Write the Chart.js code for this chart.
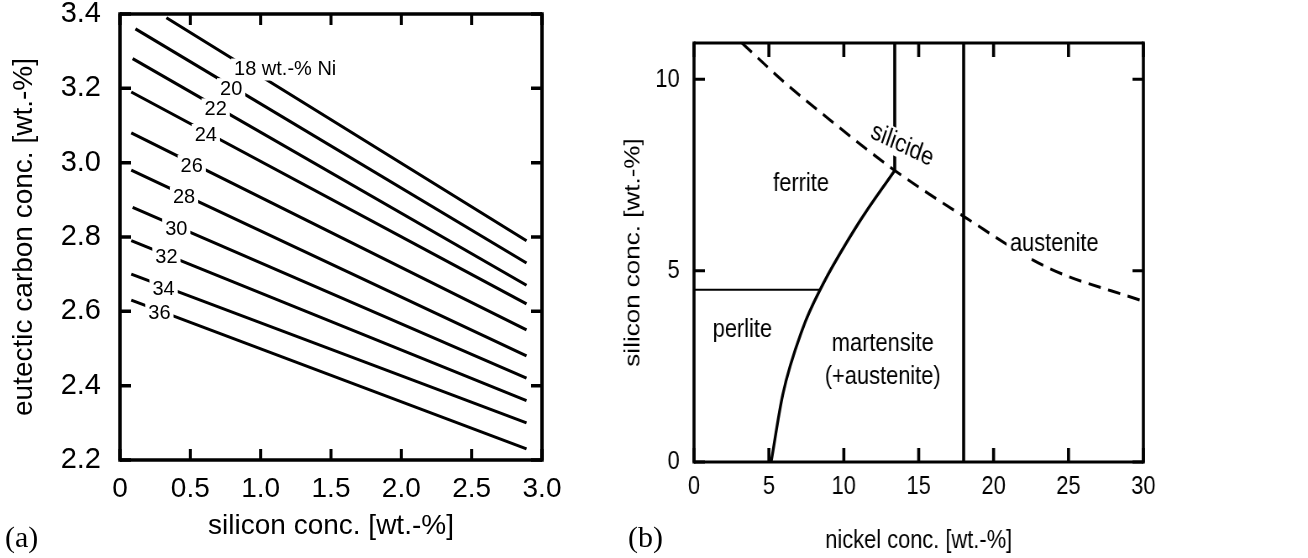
<!DOCTYPE html>
<html>
<head>
<meta charset="utf-8">
<script src="https://cdn.jsdelivr.net/npm/chart.js@4.4.1/dist/chart.umd.min.js"></script>
<style>
  html, body { margin: 0; padding: 0; background: #fff; }
  body { width: 1308px; height: 558px; position: relative; overflow: hidden; }
  canvas { position: absolute; top: 0; }
  #chartA { left: 0; }
  #chartB { left: 610px; }
  .panel { position: absolute; font-family: 'Liberation Serif', serif; font-size: 30px; line-height: 1; color: #000; }
</style>
</head>
<body>
<canvas id="chartA" width="610" height="558"></canvas>
<!-- panel (b) is set in a condensed face: wider bitmap, squeezed horizontally -->
<canvas id="chartB" width="831" height="558" style="width:698px;height:558px;"></canvas>
<div class="panel" style="left:5px; top:522px;">(a)</div>
<div class="panel" style="left:628px; top:522px;">(b)</div>
<script>
// (a) eutectic carbon vs. silicon, one line per nickel content
const niLevels = [18, 20, 22, 24, 26, 28, 30, 32, 34, 36];
const siStart = [0.33, 0.11, 0.09, 0.08, 0.08, 0.08, 0.09, 0.08, 0.08, 0.08];
const carbonStart = [3.39, 3.36, 3.28, 3.19, 3.08, 2.98, 2.88, 2.79, 2.70, 2.63];
const siEnd = [2.89, 2.89, 2.89, 2.89, 2.89, 2.89, 2.89, 2.89, 2.89, 2.89];
const carbonEnd = [2.79, 2.73, 2.67, 2.62, 2.55, 2.48, 2.42, 2.36, 2.30, 2.23];
const labelSi = [0.89, 0.79, 0.68, 0.61, 0.51, 0.455, 0.40, 0.33, 0.31, 0.28];

const siTicksA = [0, 0.5, 1.0, 1.5, 2.0, 2.5, 3.0];
const siTickLabelsA = ['0', '0.5', '1.0', '1.5', '2.0', '2.5', '3.0'];
const carbonTicks = [2.2, 2.4, 2.6, 2.8, 3.0, 3.2, 3.4];
const carbonTickLabels = ['2.2', '2.4', '2.6', '2.8', '3.0', '3.2', '3.4'];

// (b) phase map, silicon vs. nickel
const silicideNi = [3.2, 6.1, 9.2, 13.4, 18, 23.5, 30];
const silicideSi = [10.95, 9.9, 8.9, 7.62, 6.42, 5.1, 4.2];
const martensiteNi = [5.15, 5.92, 7.23, 8.43, 11.0, 13.4];
const martensiteSi = [0, 1.75, 3.46, 4.51, 6.25, 7.62];
const perliteNi = [0, 8.45];
const perliteSi = [4.5, 4.5];
const ferriteEdgeNi = [13.4, 13.4];
const ferriteEdgeSi = [7.62, 10.95];
const austeniteEdgeNi = [18, 18];
const austeniteEdgeSi = [0, 10.95];

const niTicks = [0, 5, 10, 15, 20, 25, 30];
const siTicksB = [0, 5, 10];

const regionNames = ['ferrite', 'silicide', 'austenite', 'perlite', 'martensite', '(+austenite)'];
const regionNi = [7.15, 13.9, 24.05, 3.23, 12.6, 12.6];
const regionSi = [7.26, 8.28, 5.70, 3.45, 3.10, 2.23];
const regionAngle = [0, 22, 0, 0, 0, 0];

Chart.defaults.color = '#000';

const fontA = { family: 'Liberation Sans, Arial, sans-serif', size: 28 };
const fontB = { family: 'Liberation Sans, Arial, sans-serif', size: 26 };

const pts = (xs, ys) => xs.map((v, i) => ({ x: v, y: ys[i] }));

function toCss(f) { return f.size + 'px ' + f.family; }

// white-boxed text labels placed in data coordinates
function tagPlugin(items, style) {
  return {
    id: 'tags',
    afterDatasetsDraw(chart) {
      const { ctx, scales: { x, y } } = chart;
      ctx.save();
      ctx.font = style.font;
      ctx.textBaseline = 'middle';
      ctx.textAlign = 'center';
      items.forEach(t => {
        const px = x.getPixelForValue(t.x);
        const py = y.getPixelForValue(t.y) + style.dy;
        ctx.save();
        ctx.translate(px, py);
        ctx.rotate((t.angle || 0) * Math.PI / 180);
        const w = ctx.measureText(t.text).width;
        const ws = t.suffix ? ctx.measureText(t.suffix).width : 0;
        ctx.fillStyle = '#fff';
        ctx.fillRect(-w / 2 - style.padX, -style.boxH / 2, w + ws + 2 * style.padX, style.boxH);
        ctx.fillStyle = '#000';
        ctx.fillText(t.text, 0, 0);
        if (t.suffix) {
          ctx.textAlign = 'left';
          ctx.fillText(t.suffix, w / 2, 0);
        }
        ctx.restore();
      });
      ctx.restore();
    }
  };
}

// closed box with inward ticks on all four sides
function framePlugin(opt) {
  return {
    id: 'frame',
    afterDraw(chart) {
      const { ctx, chartArea: a, scales: { x, y } } = chart;
      ctx.save();
      ctx.strokeStyle = '#000';
      ctx.lineWidth = opt.width;
      ctx.beginPath();
      ctx.moveTo(a.left, a.top); ctx.lineTo(a.right, a.top);
      ctx.moveTo(a.left, a.bottom); ctx.lineTo(a.right, a.bottom);
      ctx.stroke();
      ctx.lineWidth = opt.sideWidth;
      ctx.beginPath();
      ctx.moveTo(a.left, a.top - opt.width / 2); ctx.lineTo(a.left, a.bottom + opt.width / 2);
      ctx.moveTo(a.right, a.top - opt.width / 2); ctx.lineTo(a.right, a.bottom + opt.width / 2);
      ctx.stroke();
      ctx.lineWidth = opt.xTickWidth;
      ctx.beginPath();
      x.ticks.forEach(t => {
        const p = x.getPixelForValue(t.value);
        ctx.moveTo(p, a.bottom); ctx.lineTo(p, a.bottom - opt.xLen);
        ctx.moveTo(p, a.top); ctx.lineTo(p, a.top + opt.xLen);
      });
      ctx.stroke();
      ctx.lineWidth = opt.width;
      ctx.beginPath();
      y.ticks.forEach(t => {
        const p = y.getPixelForValue(t.value);
        ctx.moveTo(a.left, p); ctx.lineTo(a.left + opt.yLen, p);
        ctx.moveTo(a.right, p); ctx.lineTo(a.right - opt.yLen, p);
      });
      ctx.stroke();
      ctx.restore();
    }
  };
}

function lineSet(data, extra) {
  return Object.assign({
    data: data,
    showLine: true,
    borderColor: '#000',
    borderWidth: 3,
    pointRadius: 0,
    fill: false
  }, extra || {});
}

const noGrid = { display: false, drawTicks: false };

// fixed axis box sizes; end labels may overhang the plot edges
const fixWidth = w => s => { s.width = w; s.paddingTop = 0; s.paddingBottom = 0; };
const fixHeight = h => s => { s.height = h; s.paddingLeft = 0; s.paddingRight = 0; };

// ---- panel (a)
const lineTags = niLevels.map((ni, i) => {
  const slope = (carbonEnd[i] - carbonStart[i]) / (siEnd[i] - siStart[i]);
  return {
    text: String(ni),
    suffix: i === 0 ? ' wt.-% Ni' : '',
    x: labelSi[i],
    y: carbonStart[i] + (labelSi[i] - siStart[i]) * slope
  };
});

new Chart(document.getElementById('chartA'), {
  type: 'scatter',
  data: {
    datasets: niLevels.map((ni, i) => lineSet(
      [{ x: siStart[i], y: carbonStart[i] }, { x: siEnd[i], y: carbonEnd[i] }],
      { label: ni + ' wt.-% Ni' }))
  },
  options: {
    responsive: false,
    animation: false,
    devicePixelRatio: 1,
    layout: { padding: { top: 14, right: 68, left: 0, bottom: 0 } },
    plugins: { legend: { display: false }, tooltip: { enabled: false } },
    scales: {
      x: {
        type: 'linear', min: 0, max: 3,
        afterBuildTicks: s => { s.ticks = siTicksA.map(v => ({ value: v })); },
        afterFit: fixHeight(98),
        ticks: { callback: (v, i) => siTickLabelsA[i], font: fontA, padding: 12, autoSkip: false, maxRotation: 0 },
        grid: noGrid,
        border: { display: false },
        title: { display: true, text: 'silicon conc. [wt.-%]', font: fontA, padding: { top: 0, bottom: 15 } }
      },
      y: {
        type: 'linear', min: 2.2, max: 3.4,
        afterBuildTicks: s => { s.ticks = carbonTicks.map(v => ({ value: v })); },
        afterFit: fixWidth(120),
        ticks: { callback: (v, i) => carbonTickLabels[i], font: { family: fontA.family, size: 29 }, padding: 19, autoSkip: false },
        grid: noGrid,
        border: { display: false },
        title: { display: true, text: 'eutectic carbon conc. [wt.-%]', font: fontA, padding: { top: 7, bottom: 0 } }
      }
    }
  },
  plugins: [
    tagPlugin(lineTags, { font: '20px Liberation Sans, Arial, sans-serif', dy: 3, padX: 3, boxH: 22 }),
    framePlugin({ width: 3.5, sideWidth: 3.5, xTickWidth: 3, xLen: 11, yLen: 11 })
  ]
});

// ---- panel (b), drawn on an 831px bitmap shown 698px wide
const regionTags = regionNames.map((name, i) => ({
  text: name, x: regionNi[i], y: regionSi[i], angle: regionAngle[i]
}));

new Chart(document.getElementById('chartB'), {
  type: 'scatter',
  data: {
    datasets: [
      lineSet(pts(silicideNi, silicideSi), { label: 'silicide', borderDash: [15, 9], cubicInterpolationMode: 'monotone' }),
      lineSet(pts(martensiteNi, martensiteSi), { label: 'martensite start', borderWidth: 3.3, cubicInterpolationMode: 'monotone' }),
      lineSet(pts(perliteNi, perliteSi), { label: 'perlite', borderWidth: 2 }),
      lineSet(pts(ferriteEdgeNi, ferriteEdgeSi), { label: 'ferrite edge', borderWidth: 3.6 }),
      lineSet(pts(austeniteEdgeNi, austeniteEdgeSi), { label: 'austenite edge', borderWidth: 3.6 })
    ]
  },
  options: {
    responsive: false,
    animation: false,
    devicePixelRatio: 1,
    layout: { padding: { top: 43, right: 196, left: 0, bottom: 0 } },
    plugins: { legend: { display: false }, tooltip: { enabled: false } },
    scales: {
      x: {
        type: 'linear', min: 0, max: 30,
        afterBuildTicks: s => { s.ticks = niTicks.map(v => ({ value: v })); },
        afterFit: fixHeight(96),
        ticks: { font: fontB, padding: 9, autoSkip: false, maxRotation: 0 },
        grid: noGrid,
        border: { display: false },
        title: { display: true, text: 'nickel conc. [wt.-%]', font: fontB, padding: { top: 0, bottom: 2 } }
      },
      y: {
        type: 'linear', min: 0, max: 10.95,
        afterBuildTicks: s => { s.ticks = siTicksB.map(v => ({ value: v })); },
        afterFit: fixWidth(100),
        ticks: { font: fontB, padding: 17, autoSkip: false },
        grid: noGrid,
        border: { display: false },
        title: { display: true, text: 'silicon conc. [wt.-%]', font: fontB, padding: { top: 12, bottom: 0 } }
      }
    }
  },
  plugins: [
    tagPlugin(regionTags, { font: toCss(fontB), dy: 0, padX: 4, boxH: 27 }),
    framePlugin({ width: 3, sideWidth: 3.6, xTickWidth: 3.6, xLen: 14, yLen: 13 })
  ]
});
</script>
</body>
</html>
